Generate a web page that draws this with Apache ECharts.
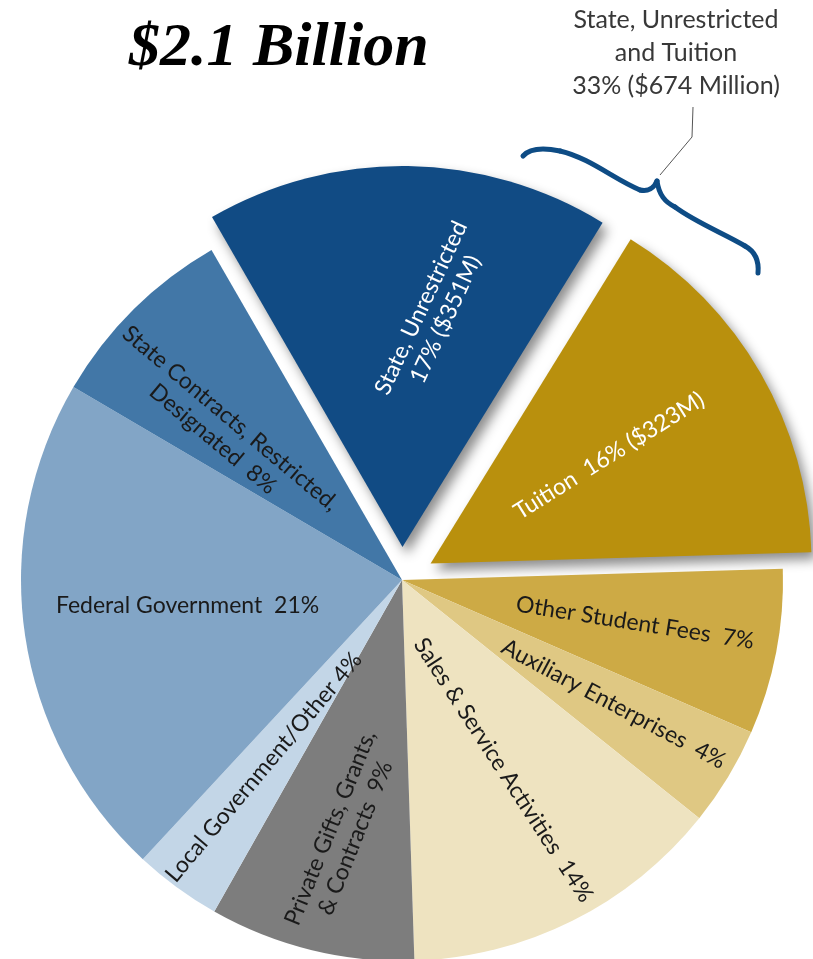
<!DOCTYPE html>
<html>
<head>
<meta charset="utf-8">
<script src="https://cdn.jsdelivr.net/npm/echarts@6/dist/echarts.min.js"></script>
<style>
  html, body { margin: 0; padding: 0; background: #fff; }
  #chart { width: 813px; height: 959px; }
</style>
</head>
<body>
<div id="chart"></div>
<script>
  // slices clockwise, starting at State, Unrestricted (share of revenue, %)
  var categories = ['State, Unrestricted', 'Tuition', 'Other Student Fees', 'Auxiliary Enterprises',
    'Sales & Service Activities', 'Private Gifts, Grants, & Contracts', 'Local Government/Other',
    'Federal Government', 'State Contracts, Restricted, Designated'];
  var shares = [17.1, 15.7, 7.0, 4.2, 13.7, 8.7, 3.7, 21.5, 8.2];
  var labelTexts = [
    'State, Unrestricted\n17% ($351M)',
    'Tuition  16% ($323M)',
    'Other Student Fees  7%',
    'Auxiliary Enterprises  4%',
    'Sales & Service Activities  14%',
    'Private Gifts, Grants,\n& Contracts  9%',
    'Local Government/Other 4%',
    'Federal Government  21%',
    'State Contracts, Restricted,\nDesignated  8%'
  ];
  var exploded = [true, true, false, false, false, false, false, false, false];

  var colors = ['#114b84', '#b9900d', '#cdaa45', '#dfc883', '#eee3c0', '#7d7d7d', '#c3d6e7', '#82a5c6', '#4277a7'];
  var textColors = ['#fff', '#fff', '#1a1a1a', '#1a1a1a', '#1a1a1a', '#1a1a1a', '#1a1a1a', '#1a1a1a', '#1a1a1a'];
  var rotations = [65, 32, -9, -28, -57, 68, 50, 0, -40];
  // screen-space nudges from the default "inside" label spot
  var shifts = [[28, -40], [11, -11], [43, 6], [46, 24], [15, 17], [-13, 65], [-24, 31], [-23, -3], [-44, -14]];

  // curly brace over the two exploded slices
  var braceSegs = [
    [523, 156, 530, 148, 545, 148, 560, 151],
    [560, 151, 590, 158, 615, 180, 640, 190],
    [640, 190, 648, 192, 654, 188, 657, 181],
    [657, 181, 659, 195, 665, 202, 675, 207],
    [675, 207, 695, 222, 725, 234, 745, 246],
    [745, 246, 756, 252, 759, 262, 758, 273]
  ];

  var chart = echarts.init(document.getElementById('chart'));

  var pieData = categories.map(function (name, i) {
    var item = {
      name: name,
      value: shares[i],
      selected: exploded[i],
      itemStyle: { color: colors[i] },
      label: { formatter: labelTexts[i], color: textColors[i], rotate: rotations[i] }
    };
    if (exploded[i]) {
      item.itemStyle.shadowBlur = 12;
      item.itemStyle.shadowOffsetX = 5;
      item.itemStyle.shadowOffsetY = 7;
      item.itemStyle.shadowColor = 'rgba(0,0,0,0.45)';
    }
    return item;
  });

  var graphics = [
    {
      type: 'text',
      x: 676,
      y: 3,
      style: {
        text: 'State, Unrestricted\nand Tuition\n33% ($674 Million)',
        fill: '#383838',
        fontFamily: 'Lato',
        fontSize: 25,
        lineHeight: 33,
        align: 'center',
        verticalAlign: 'top'
      }
    },
    {
      type: 'polyline',
      shape: { points: [[693, 107], [692, 137], [660, 175]] },
      style: { stroke: '#555', lineWidth: 1, fill: null }
    }
  ];
  braceSegs.forEach(function (s) {
    graphics.push({
      type: 'bezierCurve',
      shape: { x1: s[0], y1: s[1], cpx1: s[2], cpy1: s[3], cpx2: s[4], cpy2: s[5], x2: s[6], y2: s[7] },
      style: { stroke: '#0e4c85', lineWidth: 5, fill: null, lineCap: 'round' }
    });
  });

  chart.setOption({
    animation: false,
    title: {
      text: '$2.1 Billion',
      left: 124,
      top: 13,
      textStyle: {
        fontFamily: 'Liberation Serif',
        fontStyle: 'italic',
        fontWeight: 'bold',
        fontSize: 62,
        color: '#000'
      }
    },
    graphic: graphics,
    series: [{
      type: 'pie',
      center: [402, 580],
      radius: [0, 381],
      startAngle: 120,
      clockwise: true,
      selectedMode: 'multiple',
      selectedOffset: 33,
      avoidLabelOverlap: false,
      minShowLabelAngle: 0,
      emphasis: { disabled: true },
      itemStyle: { borderWidth: 0 },
      label: {
        show: true,
        position: 'inside',
        fontFamily: 'Lato',
        fontSize: 23,
        lineHeight: 27,
        align: 'center'
      },
      labelLine: { show: false },
      labelLayout: function (params) {
        // dx/dy act in the label's rotated frame, so turn the screen nudge into it
        var s = shifts[params.dataIndex];
        var a = rotations[params.dataIndex] * Math.PI / 180;
        return {
          dx: s[0] * Math.cos(a) - s[1] * Math.sin(a),
          dy: s[0] * Math.sin(a) + s[1] * Math.cos(a)
        };
      },
      data: pieData
    }]
  });
</script>
</body>
</html>
